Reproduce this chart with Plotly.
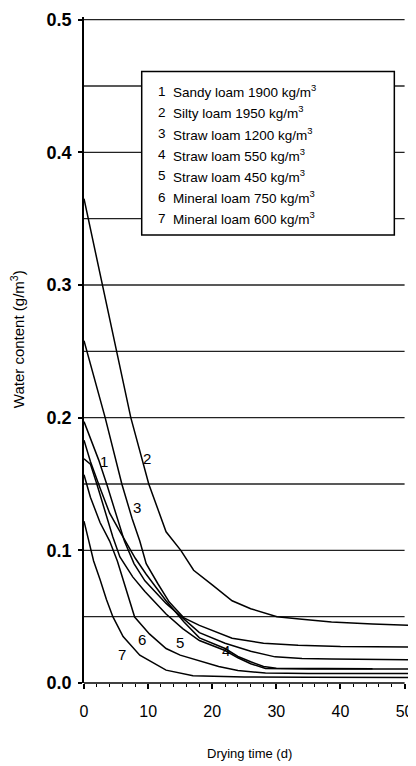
import plotly.graph_objects as go

# ---- data ----
c1_x = [0, 1, 2.3, 3.6, 5.0, 6.3, 7.8, 9.5, 12.8, 15.6, 18, 22, 26, 29.8, 34, 38.6, 51]
c1_y = [0.197, 0.184, 0.168, 0.149, 0.127, 0.107, 0.090, 0.077, 0.060, 0.048, 0.038, 0.030, 0.024, 0.0197, 0.0185, 0.018, 0.0175]

c2_x = [0, 2.9, 5.1, 7.3, 10.1, 12.8, 15.1, 17.1, 20, 23.1, 26, 30.1, 34, 38.6, 45, 51]
c2_y = [0.365, 0.300, 0.250, 0.200, 0.150, 0.114, 0.100, 0.085, 0.074, 0.062, 0.056, 0.050, 0.048, 0.046, 0.0445, 0.0434]

c3_x = [0, 3.3, 5.9, 7.5, 8.7, 9.7, 11.5, 13.3, 15.6, 18, 23.1, 28, 33.4, 40, 51]
c3_y = [0.258, 0.200, 0.150, 0.124, 0.107, 0.090, 0.075, 0.061, 0.049, 0.0434, 0.0337, 0.030, 0.0284, 0.0275, 0.0272]

c4_x = [0, 1, 2.5, 4, 5.5, 6.6, 8, 9.7, 12.8, 15.6, 18, 22, 24, 26, 28, 30, 35, 45]
c4_y = [0.183, 0.167, 0.147, 0.128, 0.115, 0.106, 0.094, 0.082, 0.062, 0.046, 0.034, 0.026, 0.020, 0.016, 0.0125, 0.0112, 0.011, 0.0108]

c5_x = [0, 1, 2, 3.5, 4.5, 5.6, 7.6, 9.5, 11.3, 12.8, 15.4, 18, 22, 24, 26, 28.3, 35, 51]
c5_y = [0.169, 0.165, 0.150, 0.126, 0.110, 0.095, 0.080, 0.069, 0.0597, 0.052, 0.041, 0.032, 0.0245, 0.019, 0.0145, 0.011, 0.0105, 0.0105]

c6_x = [0, 1, 2.5, 4.0, 5.2, 6.3, 7.9, 10.2, 12.8, 15, 18, 21, 24, 28.3, 35, 51]
c6_y = [0.157, 0.140, 0.121, 0.107, 0.092, 0.075, 0.0497, 0.037, 0.0260, 0.021, 0.0166, 0.0125, 0.0095, 0.0075, 0.0072, 0.0072]

c7_x = [0, 1.5, 2.5, 3.5, 4.5, 6.1, 8.7, 12.8, 17, 25, 35, 51]
c7_y = [0.122, 0.092, 0.078, 0.063, 0.050, 0.035, 0.021, 0.0097, 0.0055, 0.0045, 0.0043, 0.0042]

series_x = [c1_x, c2_x, c3_x, c4_x, c5_x, c6_x, c7_x]
series_y = [c1_y, c2_y, c3_y, c4_y, c5_y, c6_y, c7_y]
numbers = ["1", "2", "3", "4", "5", "6", "7"]
legend_labels = [
    "Sandy loam 1900 kg/m<sup>3</sup>",
    "Silty loam 1950 kg/m<sup>3</sup>",
    "Straw loam 1200 kg/m<sup>3</sup>",
    "Straw loam 550 kg/m<sup>3</sup>",
    "Straw loam 450 kg/m<sup>3</sup>",
    "Mineral loam 750 kg/m<sup>3</sup>",
    "Mineral loam 600 kg/m<sup>3</sup>",
]
# curve label positions
label_x = [3.1, 9.9, 8.2, 22.1, 14.9, 9.1, 6.0]
label_y = [0.167, 0.169, 0.132, 0.0247, 0.0307, 0.033, 0.0217]

grid_vals = [0.05, 0.10, 0.15, 0.20, 0.25, 0.30, 0.35, 0.40, 0.45, 0.50]
x_ticks = [0, 10, 20, 30, 40, 50]
y_ticks = [0.0, 0.1, 0.2, 0.3, 0.4, 0.5]

FONT_TXT = "Liberation Sans Narrow, Liberation Sans, Arial, sans-serif"
FONT_NUM = "Liberation Sans, Arial, sans-serif"

# page body has an 8px margin; figure is sized/offset to compensate
W, H = 408, 758
ML, MR, MT, MB = 76, 2, 4, 83
PW, PH = W - ML - MR, H - MT - MB
PLOT_BOTTOM_PAGE = 8 + H - MB  # page pixel row of y=0

fig = go.Figure()
for xs, ys, n in zip(series_x, series_y, numbers):
    fig.add_trace(go.Scatter(x=xs, y=ys, mode="lines", name=n,
                             line=dict(color="black", width=1.5),
                             showlegend=False, hoverinfo="skip"))

shapes = []
for g in grid_vals:
    shapes.append(dict(type="line", xref="x", yref="y", x0=0, x1=50, y0=g, y1=g,
                       line=dict(color="#222", width=1.3), layer="below"))
# x axis line
shapes.append(dict(type="line", xref="x", yref="paper", x0=0, x1=50, y0=0, y1=0,
                   line=dict(color="black", width=1.5), layer="above"))
# legend box
shapes.append(dict(type="rect", xref="x", yref="y", x0=9.0, x1=48.4, y0=0.3376, y1=0.461,
                   fillcolor="white", line=dict(color="black", width=1.5), layer="above"))

annotations = []
for i, (n, lab) in enumerate(zip(numbers, legend_labels)):
    yy = 0.4461 - i * 0.01597
    annotations.append(dict(x=11.25, y=yy, xref="x", yref="y", text=n, showarrow=False,
                            xanchor="left", yanchor="middle",
                            font=dict(family=FONT_TXT, size=13.5, color="black")))
    annotations.append(dict(x=13.55, y=yy, xref="x", yref="y", text=lab, showarrow=False,
                            xanchor="left", yanchor="middle",
                            font=dict(family=FONT_TXT, size=13.5, color="black")))
for n, lx, ly in zip(numbers, label_x, label_y):
    annotations.append(dict(x=lx, y=ly, xref="x", yref="y", text=n, showarrow=False,
                            xanchor="center", yanchor="middle",
                            font=dict(family=FONT_NUM, size=15, color="black")))
# axis titles (page px -> paper coords)
annotations.append(dict(x=(251 - 8 - ML) / PW, y=-(754 - PLOT_BOTTOM_PAGE) / PH,
                        xref="paper", yref="paper",
                        text="Drying time (d)", showarrow=False, xanchor="center", yanchor="middle",
                        font=dict(family=FONT_TXT, size=13, color="black")))
annotations.append(dict(x=-(ML + 8 - 17) / PW, y=(PLOT_BOTTOM_PAGE - 337) / PH,
                        xref="paper", yref="paper",
                        text="Water content (g/m<sup>3</sup>)", showarrow=False, textangle=-90,
                        xanchor="center", yanchor="middle",
                        font=dict(family=FONT_TXT, size=15, color="black")))

fig.update_layout(
    width=W, height=H,
    margin=dict(l=ML, r=MR, t=MT, b=MB),
    paper_bgcolor="white", plot_bgcolor="white",
    shapes=shapes, annotations=annotations,
    xaxis=dict(range=[0, 51], showgrid=False, zeroline=False, showline=False,
               tickmode="array", tickvals=x_ticks, ticks="outside", ticklen=5,
               tickwidth=1.5, tickcolor="black", ticklabelstandoff=9,
               ticklabeloverflow="allow",
               minor=dict(dtick=2, ticks="outside", ticklen=3, tickwidth=1.2, tickcolor="black"),
               tickfont=dict(family=FONT_NUM, size=16, color="black")),
    yaxis=dict(range=[0, 0.502], showgrid=False, zeroline=False, showline=True,
               linecolor="black", linewidth=1.5,
               tickmode="array", tickvals=y_ticks, tickformat=".1f",
               ticks="outside", ticklen=4, tickwidth=1.5, tickcolor="black",
               ticklabelstandoff=3, ticklabeloverflow="allow",
               tickfont=dict(family=FONT_NUM, size=18, color="black", weight="bold")),
)

fig.write_html("out.html")
